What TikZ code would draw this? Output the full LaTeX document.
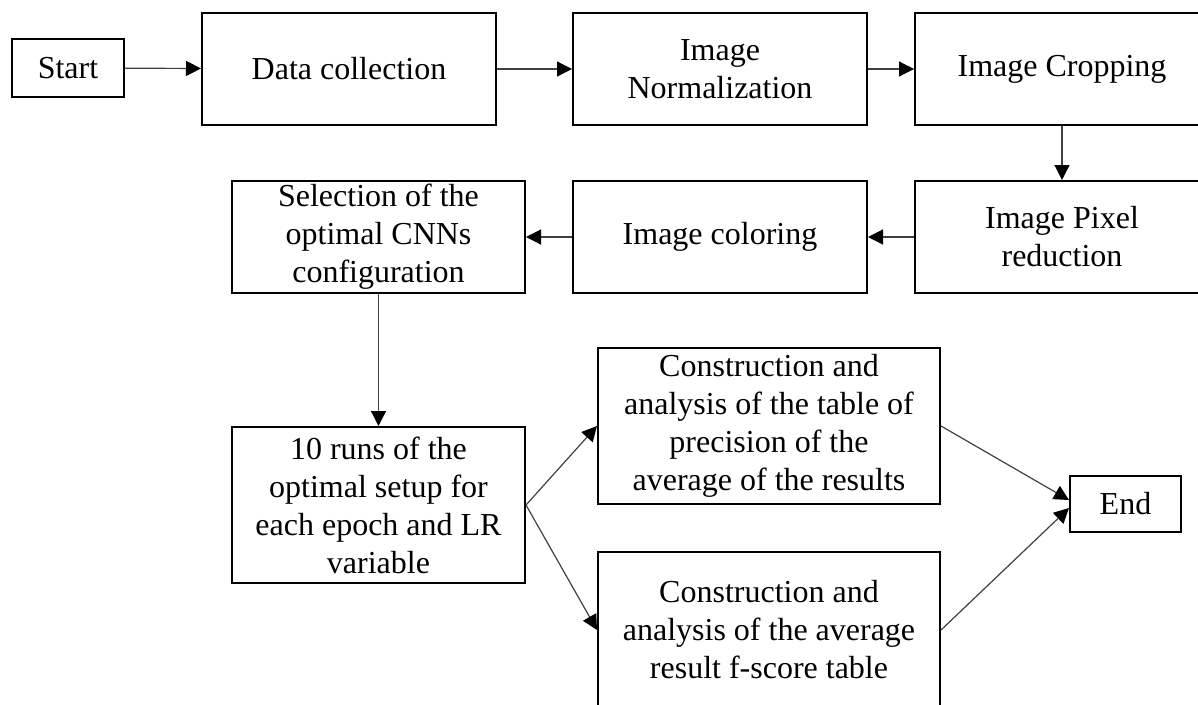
\documentclass[tikz,border=0pt]{standalone}
\usepackage{fontspec}
\setmainfont{Liberation Serif}
\usetikzlibrary{arrows.meta,calc}
\begin{document}
\begin{tikzpicture}[x=1pt,y=-1pt,
  box/.style={draw=black,line width=2pt,inner sep=0pt,align=center,
    font=\fontsize{32}{38}\selectfont},
  conn/.style={draw=black!75,line width=1.2pt,-{Triangle[length=15pt,width=15pt,color=black,fill=black]}}]
\useasboundingbox (0,0) rectangle (1198,704);
\node[box,minimum width=112pt,minimum height=58pt] (start) at (68,68) {Start};
\node[box,minimum width=294pt,minimum height=112pt] (data) at (349,69) {Data collection};
\node[box,minimum width=294pt,minimum height=112pt] (norm) at (720,69) {Image\\Normalization};
\node[box,minimum width=294pt,minimum height=112pt] (crop) at (1062,69) {Image Cropping};
\node[box,minimum width=294pt,minimum height=112pt] (pixel) at (1062,237) {Image Pixel\\reduction};
\node[box,minimum width=294pt,minimum height=112pt] (color) at (720,237) {Image coloring};
\node[box,minimum width=293pt,minimum height=112pt] (select) at (378.5,237) {Selection of the\\optimal CNNs\\configuration};
\node[box,minimum width=293pt,minimum height=156pt] (runs) at (378.5,505) {10 runs of the\\optimal setup for\\each epoch and LR\\variable};
\node[box,minimum width=342pt,minimum height=156pt] (prec) at (769,426) {Construction and\\analysis of the table of\\precision of the\\average of the results};
\node[box,minimum width=342pt,minimum height=156pt] (fscore) at (769,630) {Construction and\\analysis of the average\\result f-score table};
\node[box,minimum width=111pt,minimum height=56pt] (end) at (1125.5,504) {End};
\draw[conn] (start) -- (data);
\draw[conn] (data) -- (norm);
\draw[conn] (norm) -- (crop);
\draw[conn] (crop) -- (pixel);
\draw[conn] (pixel) -- (color);
\draw[conn] (color) -- (select);
\draw[conn] (select) -- (runs);
\draw[conn] (runs.east) -- (prec.west);
\draw[conn] (runs.east) -- (fscore.west);
\draw[conn] (prec.east) -- ([yshift=4pt]end.west);
\draw[conn] (fscore.east) -- ([yshift=-4pt]end.west);
\end{tikzpicture}
\end{document}
